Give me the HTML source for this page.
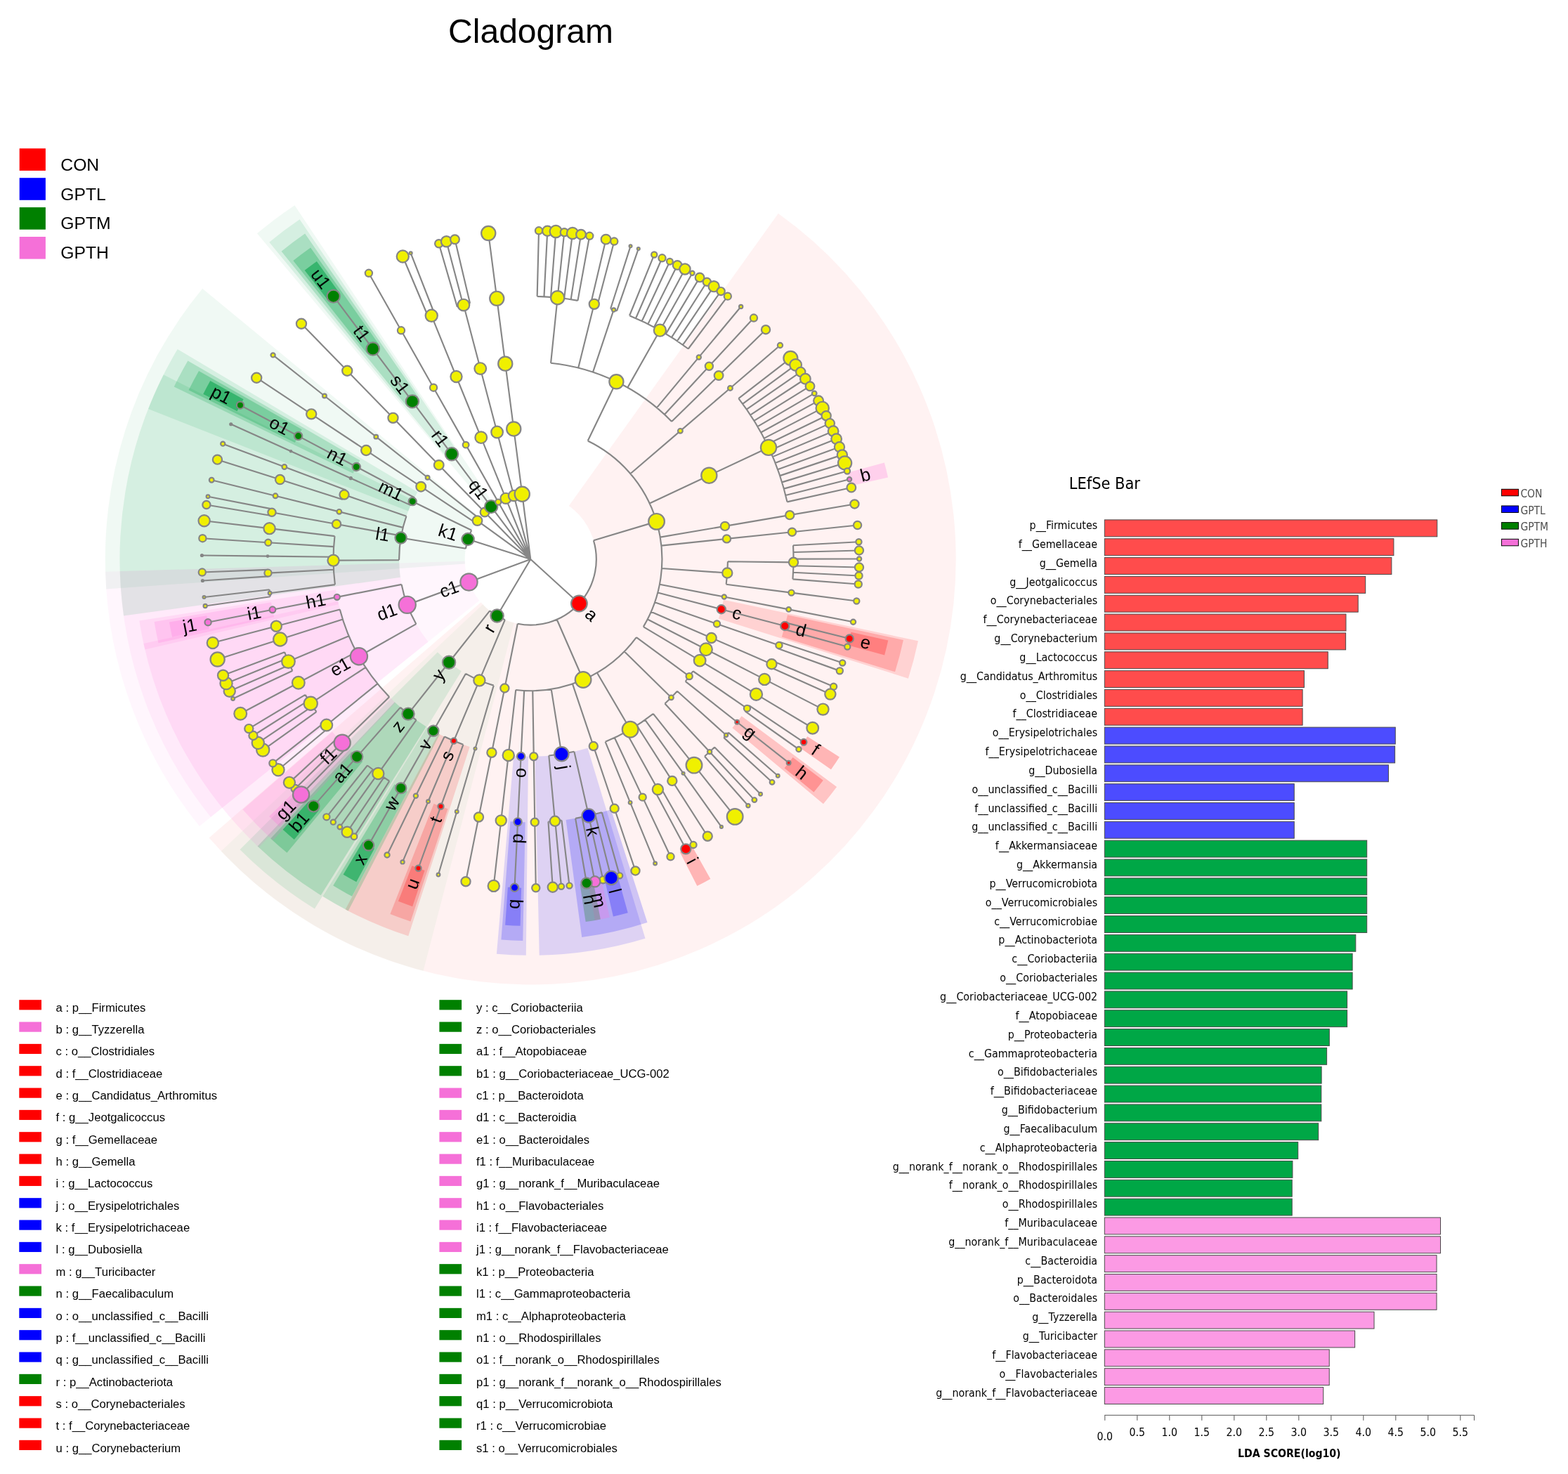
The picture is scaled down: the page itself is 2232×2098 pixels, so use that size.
<!DOCTYPE html>
<html><head><meta charset="utf-8"><title>Cladogram</title><style>html,body{margin:0;padding:0;background:#fff}body{width:2232px;height:2098px;position:relative;overflow:hidden}</style></head><body>
<svg width="2232" height="2098" viewBox="0 0 2232 2098" style="position:absolute;left:0;top:0">
<rect width="2232" height="2098" fill="#fff"/>
<g id="wedges">
<path d="M297.54 1192.41A605.5 605.5 0 1 0 1107.79 303.73L809.74 719.94A93.57 93.57 0 1 1 684.53 857.28Z" fill="#ff0000" fill-opacity="0.05"/>
<path d="M314.7 1211.4A605.5 605.5 0 0 0 602.58 1381.95L731.67 886.57A93.57 93.57 0 0 1 687.18 860.21Z" fill="#00b428" fill-opacity="0.04"/>
<path d="M150.02 813.72A605.5 605.5 0 0 0 283.87 1176.05L682.41 854.75A93.57 93.57 0 0 1 661.73 798.76Z" fill="#ff6cdc" fill-opacity="0.06"/>
<path d="M288.16 410.73A605.5 605.5 0 0 0 151.25 838.49L661.92 802.58A93.57 93.57 0 0 1 683.08 736.48Z" fill="#00a046" fill-opacity="0.06"/>
<path d="M419.47 292.16A605.5 605.5 0 0 0 365.88 332.32L695.09 724.36A93.57 93.57 0 0 1 703.37 718.16Z" fill="#00a046" fill-opacity="0.06"/>
<path d="M341.52 1209.31A584.8 584.8 0 0 0 447.86 1293.51L656.89 955.22A187.14 187.14 0 0 1 622.86 928.28Z" fill="#00a046" fill-opacity="0.11"/>
<path d="M170.71 813.12A584.8 584.8 0 0 0 299.98 1163.06L609.57 913.47A187.14 187.14 0 0 1 568.2 801.49Z" fill="#ff6cdc" fill-opacity="0.08"/>
<path d="M232.76 533.37A584.8 584.8 0 0 0 176.03 876.52L569.9 821.78A187.14 187.14 0 0 1 588.06 711.97Z" fill="#00a046" fill-opacity="0.11"/>
<path d="M252.72 496.95A584.8 584.8 0 0 0 210.99 582.09L581.09 727.56A187.14 187.14 0 0 1 594.44 700.31Z" fill="#00a046" fill-opacity="0.11"/>
<path d="M426.54 312.35A584.8 584.8 0 0 0 383.27 344.78L636.22 651.62A187.14 187.14 0 0 1 650.07 641.24Z" fill="#00a046" fill-opacity="0.11"/>
<path d="M1292.93 965.68A563.8 563.8 0 0 0 1306.96 912.21L1029.94 853.87A280.71 280.71 0 0 1 1022.96 880.49Z" fill="#ff0000" fill-opacity="0.13"/>
<path d="M767.7 1359.68A563.8 563.8 0 0 0 918.54 1335.66L836.56 1064.7A280.71 280.71 0 0 1 761.45 1076.66Z" fill="#0000ff" fill-opacity="0.13"/>
<path d="M706.92 1357.74A563.8 563.8 0 0 0 748.78 1359.78L752.03 1076.71A280.71 280.71 0 0 1 731.19 1075.7Z" fill="#0000ff" fill-opacity="0.13"/>
<path d="M491.66 1294.4A563.8 563.8 0 0 0 581.27 1332.3L668.63 1063.03A280.71 280.71 0 0 1 624.02 1044.16Z" fill="#ff0000" fill-opacity="0.14"/>
<path d="M459.23 1275.85A563.8 563.8 0 0 0 495.7 1296.52L626.03 1045.21A280.71 280.71 0 0 1 607.87 1034.92Z" fill="#00a046" fill-opacity="0.2"/>
<path d="M366.6 1204.44A563.8 563.8 0 0 0 456.74 1274.31L606.63 1034.15A280.71 280.71 0 0 1 561.75 999.37Z" fill="#00a046" fill-opacity="0.2"/>
<path d="M204.39 916.08A563.8 563.8 0 0 0 368.56 1206.31L562.73 1000.3A280.71 280.71 0 0 1 480.99 855.8Z" fill="#ff6cdc" fill-opacity="0.13"/>
<path d="M198.29 883.49A563.8 563.8 0 0 0 206.32 924.62L481.95 860.05A280.71 280.71 0 0 1 477.95 839.57Z" fill="#ff6cdc" fill-opacity="0.13"/>
<path d="M267.39 513.44A563.8 563.8 0 0 0 247.75 550.46L502.57 673.76A280.71 280.71 0 0 1 512.35 655.33Z" fill="#00a046" fill-opacity="0.2"/>
<path d="M434.13 332.61A563.8 563.8 0 0 0 400.59 357.75L578.68 577.81A280.71 280.71 0 0 1 595.37 565.29Z" fill="#00a046" fill-opacity="0.2"/>
<path d="M1274.05 956.34A543 543 0 0 0 1285.93 911.07L1121.04 875.32A374.28 374.28 0 0 1 1112.85 906.53Z" fill="#ff0000" fill-opacity="0.19"/>
<path d="M1171.94 1144.2A543 543 0 0 0 1191.06 1119.94L1055.65 1019.29A374.28 374.28 0 0 1 1042.47 1036.01Z" fill="#ff0000" fill-opacity="0.19"/>
<path d="M828.27 1334.09A543 543 0 0 0 921.5 1312.95L869.84 1152.33A374.28 374.28 0 0 1 805.58 1166.9Z" fill="#0000ff" fill-opacity="0.19"/>
<path d="M713.42 1337.41A543 543 0 0 0 744.28 1338.91L747.69 1170.22A374.28 374.28 0 0 1 726.42 1169.19Z" fill="#0000ff" fill-opacity="0.19"/>
<path d="M555.4 1300.9A543 543 0 0 0 584.43 1311.45L637.51 1151.3A374.28 374.28 0 0 1 617.5 1144.02Z" fill="#ff0000" fill-opacity="0.19"/>
<path d="M474.2 1260.62A543 543 0 0 0 501.07 1275.85L580.05 1126.76A374.28 374.28 0 0 1 561.53 1116.26Z" fill="#00a046" fill-opacity="0.28"/>
<path d="M385.28 1193.46A543 543 0 0 0 408.48 1213.86L516.23 1084.03A374.28 374.28 0 0 1 500.24 1069.97Z" fill="#00a046" fill-opacity="0.28"/>
<path d="M345.46 1152.27A543 543 0 0 0 388.42 1196.37L502.4 1071.97A374.28 374.28 0 0 1 472.79 1041.57Z" fill="#ff6cdc" fill-opacity="0.19"/>
<path d="M219.59 884.94A543 543 0 0 0 225.51 915.26L390.12 878.21A374.28 374.28 0 0 1 386.03 857.31Z" fill="#ff6cdc" fill-opacity="0.19"/>
<path d="M283.03 527.98A543 543 0 0 0 268.55 555.26L419.78 630.07A374.28 374.28 0 0 1 429.76 611.26Z" fill="#00a046" fill-opacity="0.28"/>
<path d="M442.09 352.43A543 543 0 0 0 417.38 370.95L522.36 503.03A374.28 374.28 0 0 1 539.4 490.26Z" fill="#00a046" fill-opacity="0.28"/>
<path d="M1264.08 679.45A522 522 0 0 0 1258.85 658.6L1206.61 672.85A467.85 467.85 0 0 1 1211.3 691.54Z" fill="#ff6cdc" fill-opacity="0.25"/>
<path d="M1259.11 932.48A522 522 0 0 0 1264.3 911.62L1211.49 899.63A467.85 467.85 0 0 1 1206.84 918.33Z" fill="#ff0000" fill-opacity="0.25"/>
<path d="M1182.97 1095.27A522 522 0 0 0 1194.93 1077.41L1149.32 1048.22A467.85 467.85 0 0 1 1138.6 1064.23Z" fill="#ff0000" fill-opacity="0.25"/>
<path d="M1158.44 1127.58A522 522 0 0 0 1171.75 1110.69L1128.55 1078.05A467.85 467.85 0 0 1 1116.62 1093.18Z" fill="#ff0000" fill-opacity="0.25"/>
<path d="M992.37 1261.06A522 522 0 0 0 1011.31 1250.91L984.75 1203.72A467.85 467.85 0 0 1 967.77 1212.82Z" fill="#ff0000" fill-opacity="0.25"/>
<path d="M872.92 1304.59A522 522 0 0 0 893.76 1299.31L879.39 1247.1A467.85 467.85 0 0 1 860.71 1251.83Z" fill="#0000ff" fill-opacity="0.25"/>
<path d="M846.85 1309.92A522 522 0 0 0 867.93 1305.72L856.24 1252.84A467.85 467.85 0 0 1 837.35 1256.61Z" fill="#ff6cdc" fill-opacity="0.25"/>
<path d="M833.67 1312.1A522 522 0 0 0 854.85 1308.43L844.52 1255.28A467.85 467.85 0 0 1 825.54 1258.56Z" fill="#008000" fill-opacity="0.25"/>
<path d="M719.13 1316.77A522 522 0 0 0 740.6 1317.81L742.12 1263.69A467.85 467.85 0 0 1 722.88 1262.75Z" fill="#0000ff" fill-opacity="0.25"/>
<path d="M566.94 1282.87A522 522 0 0 0 587.15 1290.21L604.59 1238.94A467.85 467.85 0 0 1 586.48 1232.36Z" fill="#ff0000" fill-opacity="0.25"/>
<path d="M488.58 1244.76A522 522 0 0 0 507.29 1255.36L533.01 1207.71A467.85 467.85 0 0 1 516.25 1198.21Z" fill="#00a046" fill-opacity="0.55"/>
<path d="M402.6 1180.87A522 522 0 0 0 418.74 1195.07L453.65 1153.67A467.85 467.85 0 0 1 439.18 1140.95Z" fill="#00a046" fill-opacity="0.55"/>
<path d="M383.15 1162.1A522 522 0 0 0 398.54 1177.12L435.54 1137.58A467.85 467.85 0 0 1 421.75 1124.13Z" fill="#ff6cdc" fill-opacity="0.25"/>
<path d="M240.99 885.54A522 522 0 0 0 245.12 906.64L298.04 895.17A467.85 467.85 0 0 1 294.34 876.26Z" fill="#ff6cdc" fill-opacity="0.25"/>
<path d="M299.28 541.92A522 522 0 0 0 289.21 560.91L337.55 585.3A467.85 467.85 0 0 1 346.58 568.28Z" fill="#00a046" fill-opacity="0.55"/>
<path d="M450.87 371.96A522 522 0 0 0 433.66 384.85L467.02 427.51A467.85 467.85 0 0 1 482.44 415.95Z" fill="#00a046" fill-opacity="0.55"/>
</g>
<g id="lines" fill="none" stroke="#868686" stroke-width="2.15" stroke-linecap="butt" stroke-linejoin="miter">
<path d="M669.05 431.8L647.5 340.75M707.26 424.83L695.25 332.03M764.65 421.86L767 328.32M774.46 422.23L779.26 328.79M784.05 422.85L791.25 329.56M793.66 423.72L803.26 330.64M803.05 424.8L815 332M812.66 426.17L827.01 333.7M822.45 427.82L839.25 335.77M841.07 431.71L862.53 340.63M850.49 434.06L874.3 343.57M869.09 439.47L897.55 350.33M878.1 442.47L908.81 354.08M896.04 449.23L931.24 362.53M905.05 453.02L942.49 367.27M913.78 456.97L953.41 372.2M922.39 461.13L964.17 377.4M931.06 465.59L975.01 382.99M939.45 470.2L985.5 388.75M947.9 475.12L996.06 394.9M956.07 480.17L1006.28 401.21M963.97 485.33L1016.14 407.66M972 490.88L1026.18 414.6M979.72 496.51L1035.83 421.64M994.8 508.43L1054.68 436.53M1009.4 521.25L1072.94 452.56M1023.09 534.57L1090.04 469.21M1039.44 552.45L1110.48 491.55M683.74 524.58L659.89 434.09M719.26 517.63L707.26 424.83M784.06 516.79L793.67 423.72M823.16 523.65L845.79 432.85M844.02 529.71L873.61 440.94M893.37 551.63L939.41 470.17M934.91 580.33L994.8 508.43M945.87 589.95L1009.4 521.25M956.13 599.93L1023.09 534.57M968.39 613.34L1039.44 552.45M1009.35 676.7L1094.04 636.92M684.75 622.67L649.49 536M707.58 615.06L683.74 524.58M731.26 610.43L719.26 517.63M836.68 627.52L877.39 543.27M897.35 674.23L968.39 613.34M924.65 716.47L1009.35 676.7M709.19 714.58L663.11 633.14M720 709.35L684.75 622.67M731.42 705.54L707.58 615.06M743.26 703.22L731.26 610.43M1051.35 567.07L1125.37 509.83M1057.13 574.76L1132.6 519.44M1062.82 582.72L1139.71 529.4M1068.15 590.62L1146.37 539.27M1073.46 598.96L1153.01 549.7M1078.39 607.16L1159.18 559.94M1083.13 615.5L1165.1 570.37M1087.62 623.91L1170.71 580.88M1091.96 632.56L1176.14 591.7M1096.07 641.32L1181.28 602.64M1099.94 650.13L1186.1 613.66M1103.55 658.98L1190.62 624.72M1107.02 668.16L1194.96 636.19M1110.15 677.11L1198.87 647.38M1113.12 686.38L1202.59 658.97M1115.82 695.61L1205.96 670.51M1118.29 704.94L1209.05 682.18M1120.53 714.39L1211.85 693.98M1124.23 733.17L1216.47 717.46M1127.52 757.2L1220.59 747.49M1129.02 776.21L1222.45 771.25M1129.41 786.01L1222.94 783.5M1129.54 795.6L1223.11 795.5M1129.43 805.2L1222.97 807.5M1129.07 814.8L1222.52 819.5M1128.46 824.4L1221.76 831.5M1126.5 843.61L1219.31 855.51M1122.67 867.41L1214.52 885.25M1118.46 886.41L1209.26 909M1116.05 895.6L1206.25 920.5M1110.46 914.01L1199.26 943.5M1107.31 923.1L1195.32 954.87M1100.34 940.96L1186.61 977.19M1096.56 949.65L1181.88 988.06M1088.25 966.9L1171.5 1009.62M1031.98 748.89L1124.23 733.17M1034.46 766.9L1127.52 757.2M1035.95 799.24L1129.52 800.31M1033.69 831.71L1126.5 843.61M1030.82 849.56L1122.67 867.41M1026.78 867.26L1117.28 891.01M1020.5 887.93L1108.91 918.56M1012.67 907.99L1098.47 945.32M1005.01 924.18L1088.25 966.9M996.14 940.15L1076.44 988.19M986.44 955.25L1063.49 1008.33M939.74 764.6L1031.98 748.89M941.39 776.61L1034.46 766.9M941.95 809.01L1035.29 815.51M938.96 831.71L1030.82 849.56M936.27 843.52L1026.78 867.26M932.09 857.29L1020.5 887.93M926.87 870.67L1012.67 907.99M921.76 881.46L1005.01 924.18M1076.44 988.19L1156.73 1036.24M1066.28 1004.23L1144.04 1056.28M1060.65 1012.4L1137 1066.5M1049.18 1027.75L1122.66 1085.68M1036.84 1042.59L1107.23 1104.24M1030.3 1049.87L1099.06 1113.33M1017.1 1063.46L1082.57 1130.32M1010.14 1070.1L1073.86 1138.62M1003.01 1076.56L1064.95 1146.7M988 1089.14L1046.18 1162.42M972.6 1100.73L1026.93 1176.91M956.84 1111.38L1007.23 1190.22M940.63 1121.17L986.98 1202.46M932.1 1125.89L976.31 1208.36M914.68 1134.65L954.53 1219.31M897.12 1142.37L932.59 1228.96M874.63 1150.75L904.48 1239.44M975.7 969.81L1049.18 1027.75M964.01 983.69L1033.59 1046.25M946.42 1001.58L1010.14 1070.1M929.81 1015.86L988 1089.14M918.26 1024.55L972.6 1100.73M906.44 1032.54L956.84 1111.38M891.1 1041.67L936.38 1123.56M874.82 1049.99L914.68 1134.65M861.66 1055.79L897.12 1142.37M844.79 1062.07L874.63 1150.75M915.85 892.11L996.14 940.15M905.88 907.09L981.18 962.62M888.7 927.23L955.42 992.83M849.85 957.49L897.15 1038.23M814.95 973.39L844.79 1062.07M591.88 1132.76L551.03 1216.94M609.48 1140.74L573.03 1226.92M627.45 1147.8L595.5 1235.75M650.23 1155.26L623.98 1245.07M681.46 1162.95L663.01 1254.69M713.24 1167.93L702.73 1260.91M737.05 1169.86L732.5 1263.32M761.25 1170.25L762.75 1263.81M780.47 1169.45L786.77 1262.81M790.24 1168.66L798.98 1261.82M799.46 1167.68L810.51 1260.6M819.09 1164.82L835.05 1257.02M828.5 1163.06L846.81 1254.82M837.82 1161.08L858.46 1252.34M847.12 1158.85L870.08 1249.56M856.76 1156.27L882.13 1246.34M632.72 1048.57L591.88 1132.76M645.92 1054.56L609.48 1140.74M659.4 1059.86L627.45 1147.8M676.49 1065.45L650.23 1155.26M699.91 1071.22L681.46 1162.95M723.74 1074.96L713.24 1167.93M741.6 1076.4L737.05 1169.86M759.75 1076.69L761.25 1170.25M781.3 1075.52L789.98 1168.69M817.34 1069.78L838.03 1161.03M662.99 958.83L616.85 1040.24M682.36 968.38L645.92 1054.56M702.75 975.64L676.49 1065.45M718.36 979.49L699.91 1071.22M734.25 981.98L723.74 1074.96M746.15 982.94L741.6 1076.4M758.26 983.14L759.75 1076.69M784.69 980.83L799.41 1073.24M381.74 772.2L288.36 766.24M381.01 791.61L287.44 790.5M381.27 810.81L287.78 814.51M381.78 820.42L288.41 826.52M383.48 839.2L290.53 850M384.78 849.21L292.16 862.51M387.93 867.79L296.09 885.73M393.3 891.24L302.81 915.05M398.77 910.03L309.64 938.53M405.09 928.19L317.55 961.23M408.67 937.31L322.03 972.64M412.44 946.21L326.73 983.76M416.32 954.77L331.58 994.46M424.83 971.81L342.23 1015.76M434.5 988.89L354.31 1037.11M439.41 996.83L360.45 1047.03M444.88 1005.18L367.29 1057.48M450.44 1013.21L374.24 1067.51M461.78 1028.3L388.41 1086.37M467.87 1035.79L396.02 1095.73M480.59 1050.27L411.93 1113.84M487.12 1057.14L420.08 1122.42M493.91 1063.95L428.58 1130.93M508.13 1077.11L446.35 1147.39M522.95 1089.48L464.87 1162.84M530.52 1095.31L474.33 1170.14M538.1 1100.86L483.81 1177.07M546.39 1106.6L494.17 1184.24M554.28 1111.76L504.03 1190.7M570.72 1121.64L524.58 1203.05M476.48 763.13L383.56 752.17M475.12 778.15L381.74 772.2M474.57 792.71L381.01 791.61M474.94 810.72L381.49 815.62M476.89 832.16L384.1 844.21M479.76 849.85L387.93 867.79M483.79 867.44L393.3 891.24M487.89 881.53L398.77 910.03M496.65 905.2L410.45 941.59M507.44 927.87L424.83 971.81M520.49 949.91L442.24 1001.21M537.41 973.06L464.8 1032.07M554.19 991.9L487.17 1057.19M569.91 1006.84L508.13 1077.11M592.56 1024.77L538.33 1101.02M616.85 1040.24L570.72 1121.64M568.12 797.11L474.55 797.66M571.59 831.9L479.76 849.85M592.37 888.16L510.93 934.23M639.09 942.74L581.01 1016.1M650.8 436.61L624.68 346.76M659.45 434.21L635.5 343.76M609.69 451.21L573.29 365.01M618.81 447.5L584.7 360.37M570.97 470.26L524.9 388.82M530.79 496.52L474.67 421.65M494.23 527.78L428.98 460.73M461.95 563.52L388.62 505.4M443.2 589.37L365.19 537.71M424.64 620.6L341.98 576.74M414.05 642.2L328.75 603.75M404.84 664.52L317.23 631.65M398.6 682.52L309.44 654.15M392.02 705.8L301.21 683.24M387.86 724.57L296.01 706.7M386.16 733.99L293.88 718.48M383.56 752.17L290.63 741.21M649.49 536L614.24 449.32M617.04 551.7L570.97 470.26M586.91 571.4L530.79 496.52M559.49 594.84L494.23 527.78M535.28 621.65L461.95 563.52M521.22 641.03L443.2 589.37M507.29 664.45L424.64 620.6M499.35 680.66L414.05 642.2M492.44 697.4L404.84 664.52M487.77 710.9L398.6 682.52M482.83 728.35L392.02 705.8M479.05 745.96L386.98 729.27M571.12 762.65L479.05 745.96M663.11 633.14L617.04 551.7M643.03 646.27L586.91 571.4M624.75 661.9L559.49 594.84M608.61 679.77L535.28 621.65M599.23 692.69L521.22 641.03M589.95 708.31L507.29 664.45M584.65 719.11L499.35 680.66M578.43 734.75L490.02 704.12M573.64 750.91L482.83 728.35M755.26 796.02L824.4 859.06M755.26 796.02L707.57 876.52M755.26 796.02L667.49 828.44M755.26 796.02L666.14 767.5M755.26 796.02L679.52 741.08M755.26 796.02L690 728.96M755.26 796.02L699.14 721.15M755.26 796.02L709.19 714.58M755.26 796.02L720 709.35M755.26 796.02L731.42 705.54M755.26 796.02L743.26 703.22M844.9 769.2L934.55 742.37M792.68 881.78L830.1 967.54M736.81 887.75L718.36 979.49M718.82 882.2L682.38 968.39M697.18 869.38L639.09 942.74M667.49 828.44L579.72 860.87M662.94 780.76L570.63 765.49M677.25 744.36L599.23 692.69M681.93 737.9L608.61 679.77M690 728.96L624.75 661.9M699.14 721.15L643.03 646.27M671.24 754.84L587.21 713.67M681.93 737.9A93.57 93.57 0 0 0 677.25 744.36M671.24 754.84A93.57 93.57 0 0 0 662.94 780.76M697.18 869.38A93.57 93.57 0 0 0 718.82 882.2M736.81 887.75A93.57 93.57 0 0 0 844.9 769.2M589.95 708.31A187.14 187.14 0 0 0 584.65 719.11M578.43 734.75A187.14 187.14 0 0 0 568.12 797.11M571.59 831.9A187.14 187.14 0 0 0 592.37 888.16M662.99 958.83A187.14 187.14 0 0 0 702.75 975.64M734.25 981.98A187.14 187.14 0 0 0 905.88 907.09M915.85 892.11A187.14 187.14 0 0 0 836.68 627.52M492.44 697.4A280.71 280.71 0 0 0 487.77 710.9M476.48 763.13A280.71 280.71 0 0 0 476.89 832.16M483.79 867.44A280.71 280.71 0 0 0 554.19 991.9M569.91 1006.84A280.71 280.71 0 0 0 592.56 1024.77M632.72 1048.57A280.71 280.71 0 0 0 659.4 1059.86M781.3 1075.52A280.71 280.71 0 0 0 817.34 1069.78M861.66 1055.79A280.71 280.71 0 0 0 929.81 1015.86M946.42 1001.58A280.71 280.71 0 0 0 964.01 983.69M975.7 969.81A280.71 280.71 0 0 0 986.44 955.25M1033.69 831.71A280.71 280.71 0 0 0 1035.95 799.24M956.13 599.93A280.71 280.71 0 0 0 784.06 516.79M669.05 431.8A374.28 374.28 0 0 0 650.8 436.61M618.81 447.5A374.28 374.28 0 0 0 609.69 451.21M387.86 724.57A374.28 374.28 0 0 0 386.16 733.99M381.27 810.81A374.28 374.28 0 0 0 381.78 820.42M383.48 839.2A374.28 374.28 0 0 0 384.78 849.21M405.09 928.19A374.28 374.28 0 0 0 416.32 954.77M434.5 988.89A374.28 374.28 0 0 0 450.44 1013.21M461.78 1028.3A374.28 374.28 0 0 0 467.87 1035.79M480.59 1050.27A374.28 374.28 0 0 0 493.91 1063.95M522.95 1089.48A374.28 374.28 0 0 0 554.28 1111.76M780.47 1169.45A374.28 374.28 0 0 0 799.46 1167.68M819.09 1164.82A374.28 374.28 0 0 0 856.76 1156.27M932.1 1125.89A374.28 374.28 0 0 0 940.63 1121.17M1003.01 1076.56A374.28 374.28 0 0 0 1017.1 1063.46M1030.3 1049.87A374.28 374.28 0 0 0 1036.84 1042.59M1060.65 1012.4A374.28 374.28 0 0 0 1066.28 1004.23M1096.56 949.65A374.28 374.28 0 0 0 1100.34 940.96M1107.31 923.1A374.28 374.28 0 0 0 1110.46 914.01M1116.05 895.6A374.28 374.28 0 0 0 1118.46 886.41M1128.46 824.4A374.28 374.28 0 0 0 1129.02 776.21M1120.53 714.39A374.28 374.28 0 0 0 1051.35 567.07M979.72 496.51A374.28 374.28 0 0 0 896.04 449.23M878.1 442.47A374.28 374.28 0 0 0 869.09 439.47M850.49 434.06A374.28 374.28 0 0 0 841.07 431.71M822.45 427.82A374.28 374.28 0 0 0 764.65 421.86"/>
</g>
<g id="nodes" stroke="#858585" stroke-width="2.2">
<circle cx="767" cy="328.32" r="5.1" fill="#f0f000"/>
<circle cx="779.26" cy="328.79" r="7.1" fill="#f0f000"/>
<circle cx="791.25" cy="329.56" r="8.6" fill="#f0f000"/>
<circle cx="803.26" cy="330.64" r="5.6" fill="#f0f000"/>
<circle cx="815" cy="332" r="8.1" fill="#f0f000"/>
<circle cx="827.01" cy="333.7" r="6.85" fill="#f0f000"/>
<circle cx="839.25" cy="335.77" r="5.1" fill="#f0f000"/>
<circle cx="862.53" cy="340.63" r="6.85" fill="#f0f000"/>
<circle cx="874.3" cy="343.57" r="5.1" fill="#f0f000"/>
<circle cx="897.55" cy="350.33" r="1.94" fill="#f0f000"/>
<circle cx="908.81" cy="354.08" r="1.94" fill="#f0f000"/>
<circle cx="931.24" cy="362.53" r="4.1" fill="#f0f000"/>
<circle cx="942.49" cy="367.27" r="5.1" fill="#f0f000"/>
<circle cx="953.41" cy="372.2" r="4.35" fill="#f0f000"/>
<circle cx="964.17" cy="377.4" r="6.35" fill="#f0f000"/>
<circle cx="975.01" cy="382.99" r="7.6" fill="#f0f000"/>
<circle cx="985.5" cy="388.75" r="3.1" fill="#f0f000"/>
<circle cx="996.06" cy="394.9" r="6.35" fill="#f0f000"/>
<circle cx="1006.28" cy="401.21" r="5.6" fill="#f0f000"/>
<circle cx="1016.14" cy="407.66" r="7.6" fill="#f0f000"/>
<circle cx="1026.18" cy="414.6" r="5.6" fill="#f0f000"/>
<circle cx="1035.83" cy="421.64" r="5.1" fill="#f0f000"/>
<circle cx="1054.68" cy="436.53" r="2.6" fill="#f0f000"/>
<circle cx="1072.94" cy="452.56" r="5.1" fill="#f0f000"/>
<circle cx="1090.04" cy="469.21" r="6.1" fill="#f0f000"/>
<circle cx="1110.48" cy="491.55" r="3.6" fill="#f0f000"/>
<circle cx="1125.37" cy="509.83" r="9.96" fill="#f0f000"/>
<circle cx="1132.6" cy="519.44" r="8.35" fill="#f0f000"/>
<circle cx="1139.71" cy="529.4" r="6.64" fill="#f0f000"/>
<circle cx="1146.37" cy="539.27" r="7.34" fill="#f0f000"/>
<circle cx="1153.01" cy="549.7" r="6.34" fill="#f0f000"/>
<circle cx="1159.18" cy="559.94" r="3.32" fill="#f0f000"/>
<circle cx="1165.1" cy="570.37" r="6.94" fill="#f0f000"/>
<circle cx="1170.71" cy="580.88" r="9.15" fill="#f0f000"/>
<circle cx="1176.14" cy="591.7" r="6.64" fill="#f0f000"/>
<circle cx="1181.28" cy="602.64" r="6.64" fill="#f0f000"/>
<circle cx="1186.1" cy="613.66" r="7.34" fill="#f0f000"/>
<circle cx="1190.62" cy="624.72" r="7.34" fill="#f0f000"/>
<circle cx="1194.96" cy="636.19" r="7.1" fill="#f0f000"/>
<circle cx="1198.87" cy="647.38" r="7.1" fill="#f0f000"/>
<circle cx="1202.59" cy="658.97" r="9.6" fill="#f0f000"/>
<circle cx="1205.96" cy="670.51" r="4.1" fill="#f0f000"/>
<circle cx="1211.85" cy="693.98" r="6.35" fill="#f0f000"/>
<circle cx="1216.47" cy="717.46" r="6.1" fill="#f0f000"/>
<circle cx="1220.59" cy="747.49" r="5.6" fill="#f0f000"/>
<circle cx="1222.45" cy="771.25" r="4.1" fill="#f0f000"/>
<circle cx="1222.94" cy="783.5" r="6.1" fill="#f0f000"/>
<circle cx="1223.11" cy="795.5" r="3.1" fill="#f0f000"/>
<circle cx="1222.97" cy="807.5" r="6.1" fill="#f0f000"/>
<circle cx="1222.52" cy="819.5" r="5.1" fill="#f0f000"/>
<circle cx="1221.76" cy="831.5" r="5.1" fill="#f0f000"/>
<circle cx="1219.31" cy="855.51" r="4.1" fill="#f0f000"/>
<circle cx="1214.52" cy="885.25" r="3.6" fill="#f0f000"/>
<circle cx="1206.25" cy="920.5" r="4.1" fill="#f0f000"/>
<circle cx="1199.26" cy="943.5" r="4.1" fill="#f0f000"/>
<circle cx="1195.32" cy="954.87" r="4.6" fill="#f0f000"/>
<circle cx="1186.61" cy="977.19" r="4.6" fill="#f0f000"/>
<circle cx="1181.88" cy="988.06" r="7.6" fill="#f0f000"/>
<circle cx="1171.5" cy="1009.62" r="8.1" fill="#f0f000"/>
<circle cx="1156.73" cy="1036.24" r="8.35" fill="#f0f000"/>
<circle cx="1137" cy="1066.5" r="3.6" fill="#f0f000"/>
<circle cx="1107.23" cy="1104.24" r="2.35" fill="#f0f000"/>
<circle cx="1099.06" cy="1113.33" r="3.35" fill="#f0f000"/>
<circle cx="1082.57" cy="1130.32" r="2.35" fill="#f0f000"/>
<circle cx="1073.86" cy="1138.62" r="3.35" fill="#f0f000"/>
<circle cx="1064.95" cy="1146.7" r="2.6" fill="#f0f000"/>
<circle cx="1046.18" cy="1162.42" r="11.35" fill="#f0f000"/>
<circle cx="1026.93" cy="1176.91" r="1.94" fill="#f0f000"/>
<circle cx="1007.23" cy="1190.22" r="6.6" fill="#f0f000"/>
<circle cx="986.98" cy="1202.46" r="4.6" fill="#f0f000"/>
<circle cx="954.53" cy="1219.31" r="5.1" fill="#f0f000"/>
<circle cx="932.59" cy="1228.96" r="2.35" fill="#f0f000"/>
<circle cx="904.48" cy="1239.44" r="6.1" fill="#f0f000"/>
<circle cx="882.13" cy="1246.34" r="4.1" fill="#f0f000"/>
<circle cx="858.46" cy="1252.34" r="5.1" fill="#f0f000"/>
<circle cx="810.51" cy="1260.6" r="4.1" fill="#f0f000"/>
<circle cx="798.98" cy="1261.82" r="4.1" fill="#f0f000"/>
<circle cx="786.77" cy="1262.81" r="7.1" fill="#f0f000"/>
<circle cx="762.75" cy="1263.81" r="5.6" fill="#f0f000"/>
<circle cx="702.73" cy="1260.91" r="8.1" fill="#f0f000"/>
<circle cx="663.01" cy="1254.69" r="6.6" fill="#f0f000"/>
<circle cx="623.98" cy="1245.07" r="2.35" fill="#f0f000"/>
<circle cx="573.03" cy="1226.92" r="2.6" fill="#f0f000"/>
<circle cx="551.03" cy="1216.94" r="3.6" fill="#f0f000"/>
<circle cx="504.03" cy="1190.7" r="4.35" fill="#f0f000"/>
<circle cx="494.17" cy="1184.24" r="7.6" fill="#f0f000"/>
<circle cx="483.81" cy="1177.07" r="3.35" fill="#f0f000"/>
<circle cx="474.33" cy="1170.14" r="3.6" fill="#f0f000"/>
<circle cx="464.87" cy="1162.84" r="4.6" fill="#f0f000"/>
<circle cx="420.08" cy="1122.42" r="5.6" fill="#f0f000"/>
<circle cx="411.93" cy="1113.84" r="8.1" fill="#f0f000"/>
<circle cx="396.02" cy="1095.73" r="8.6" fill="#f0f000"/>
<circle cx="388.41" cy="1086.37" r="5.1" fill="#f0f000"/>
<circle cx="374.24" cy="1067.51" r="9.1" fill="#f0f000"/>
<circle cx="367.29" cy="1057.48" r="8.6" fill="#f0f000"/>
<circle cx="360.45" cy="1047.03" r="6.1" fill="#f0f000"/>
<circle cx="354.31" cy="1037.11" r="6.1" fill="#f0f000"/>
<circle cx="342.23" cy="1015.76" r="8.85" fill="#f0f000"/>
<circle cx="331.58" cy="994.46" r="2.35" fill="#f0f000"/>
<circle cx="326.73" cy="983.76" r="8.1" fill="#f0f000"/>
<circle cx="322.03" cy="972.64" r="8.6" fill="#f0f000"/>
<circle cx="317.55" cy="961.23" r="7.6" fill="#f0f000"/>
<circle cx="309.64" cy="938.53" r="10.1" fill="#f0f000"/>
<circle cx="302.81" cy="915.05" r="8.1" fill="#f0f000"/>
<circle cx="292.16" cy="862.51" r="2.6" fill="#f0f000"/>
<circle cx="290.53" cy="850" r="1.94" fill="#f0f000"/>
<circle cx="288.41" cy="826.52" r="1.49" fill="#878787"/>
<circle cx="287.78" cy="814.51" r="5.1" fill="#f0f000"/>
<circle cx="287.44" cy="790.5" r="1.49" fill="#878787"/>
<circle cx="288.36" cy="766.24" r="5.1" fill="#f0f000"/>
<circle cx="290.63" cy="741.21" r="8.1" fill="#f0f000"/>
<circle cx="293.88" cy="718.48" r="5.6" fill="#f0f000"/>
<circle cx="296.01" cy="706.7" r="2.35" fill="#f0f000"/>
<circle cx="301.21" cy="683.24" r="3.35" fill="#f0f000"/>
<circle cx="309.44" cy="654.15" r="6.6" fill="#f0f000"/>
<circle cx="317.23" cy="631.65" r="3.1" fill="#f0f000"/>
<circle cx="328.75" cy="603.75" r="1.49" fill="#878787"/>
<circle cx="365.19" cy="537.71" r="7.1" fill="#f0f000"/>
<circle cx="388.62" cy="505.4" r="3.1" fill="#f0f000"/>
<circle cx="428.98" cy="460.73" r="7.1" fill="#f0f000"/>
<circle cx="524.9" cy="388.82" r="5.1" fill="#f0f000"/>
<circle cx="573.29" cy="365.01" r="8.6" fill="#f0f000"/>
<circle cx="584.7" cy="360.37" r="1.94" fill="#f0f000"/>
<circle cx="624.68" cy="346.76" r="5.6" fill="#f0f000"/>
<circle cx="635.5" cy="343.76" r="7.6" fill="#f0f000"/>
<circle cx="647.5" cy="340.75" r="6.35" fill="#f0f000"/>
<circle cx="695.25" cy="332.03" r="10.1" fill="#f0f000"/>
<circle cx="793.67" cy="423.72" r="9.6" fill="#f0f000"/>
<circle cx="845.79" cy="432.85" r="7.1" fill="#f0f000"/>
<circle cx="873.61" cy="440.94" r="2.6" fill="#f0f000"/>
<circle cx="939.41" cy="470.17" r="8.6" fill="#f0f000"/>
<circle cx="994.8" cy="508.43" r="3.1" fill="#f0f000"/>
<circle cx="1009.4" cy="521.25" r="5.6" fill="#f0f000"/>
<circle cx="1023.09" cy="534.57" r="6.35" fill="#f0f000"/>
<circle cx="1039.44" cy="552.45" r="3.35" fill="#f0f000"/>
<circle cx="1094.04" cy="636.92" r="11.1" fill="#f0f000"/>
<circle cx="1124.23" cy="733.17" r="6.1" fill="#f0f000"/>
<circle cx="1127.52" cy="757.2" r="5.6" fill="#f0f000"/>
<circle cx="1129.52" cy="800.31" r="6.6" fill="#f0f000"/>
<circle cx="1126.5" cy="843.61" r="4.1" fill="#f0f000"/>
<circle cx="1122.67" cy="867.41" r="3.35" fill="#f0f000"/>
<circle cx="1108.91" cy="918.56" r="4.6" fill="#f0f000"/>
<circle cx="1098.47" cy="945.32" r="7.1" fill="#f0f000"/>
<circle cx="1088.25" cy="966.9" r="8.1" fill="#f0f000"/>
<circle cx="1076.44" cy="988.19" r="8.6" fill="#f0f000"/>
<circle cx="1063.49" cy="1008.33" r="4.6" fill="#f0f000"/>
<circle cx="1033.59" cy="1046.25" r="2.6" fill="#f0f000"/>
<circle cx="1010.14" cy="1070.1" r="3.1" fill="#f0f000"/>
<circle cx="988" cy="1089.14" r="11.35" fill="#f0f000"/>
<circle cx="972.6" cy="1100.73" r="1.94" fill="#f0f000"/>
<circle cx="956.84" cy="1111.38" r="6.6" fill="#f0f000"/>
<circle cx="936.38" cy="1123.56" r="7.6" fill="#f0f000"/>
<circle cx="914.68" cy="1134.65" r="5.1" fill="#f0f000"/>
<circle cx="897.12" cy="1142.37" r="2.35" fill="#f0f000"/>
<circle cx="874.63" cy="1150.75" r="6.1" fill="#f0f000"/>
<circle cx="789.98" cy="1168.69" r="7.1" fill="#f0f000"/>
<circle cx="761.25" cy="1170.25" r="5.6" fill="#f0f000"/>
<circle cx="713.24" cy="1167.93" r="7.6" fill="#f0f000"/>
<circle cx="681.46" cy="1162.95" r="6.6" fill="#f0f000"/>
<circle cx="650.23" cy="1155.26" r="2.35" fill="#f0f000"/>
<circle cx="609.48" cy="1140.74" r="2.35" fill="#f0f000"/>
<circle cx="591.88" cy="1132.76" r="3.1" fill="#f0f000"/>
<circle cx="538.33" cy="1101.02" r="8.1" fill="#f0f000"/>
<circle cx="464.8" cy="1032.07" r="8.35" fill="#f0f000"/>
<circle cx="442.24" cy="1001.21" r="9.6" fill="#f0f000"/>
<circle cx="424.83" cy="971.81" r="8.85" fill="#f0f000"/>
<circle cx="410.45" cy="941.59" r="9.35" fill="#f0f000"/>
<circle cx="398.77" cy="910.03" r="9.6" fill="#f0f000"/>
<circle cx="393.3" cy="891.24" r="7.6" fill="#f0f000"/>
<circle cx="384.1" cy="844.21" r="2.35" fill="#f0f000"/>
<circle cx="381.49" cy="815.62" r="5.1" fill="#f0f000"/>
<circle cx="381.01" cy="791.61" r="1.2" fill="#878787"/>
<circle cx="381.74" cy="772.2" r="4.6" fill="#f0f000"/>
<circle cx="383.56" cy="752.17" r="8.1" fill="#f0f000"/>
<circle cx="386.98" cy="729.27" r="5.6" fill="#f0f000"/>
<circle cx="392.02" cy="705.8" r="3.35" fill="#f0f000"/>
<circle cx="398.6" cy="682.52" r="6.6" fill="#f0f000"/>
<circle cx="404.84" cy="664.52" r="3.35" fill="#f0f000"/>
<circle cx="414.05" cy="642.2" r="1.2" fill="#878787"/>
<circle cx="443.2" cy="589.37" r="7.1" fill="#f0f000"/>
<circle cx="461.95" cy="563.52" r="2.85" fill="#f0f000"/>
<circle cx="494.23" cy="527.78" r="7.1" fill="#f0f000"/>
<circle cx="570.97" cy="470.26" r="5.1" fill="#f0f000"/>
<circle cx="614.24" cy="449.32" r="8.6" fill="#f0f000"/>
<circle cx="659.89" cy="434.09" r="8.35" fill="#f0f000"/>
<circle cx="707.26" cy="424.83" r="10.1" fill="#f0f000"/>
<circle cx="877.39" cy="543.27" r="10.1" fill="#f0f000"/>
<circle cx="968.39" cy="613.34" r="3.35" fill="#f0f000"/>
<circle cx="1009.35" cy="676.7" r="11.1" fill="#f0f000"/>
<circle cx="1031.98" cy="748.89" r="6.1" fill="#f0f000"/>
<circle cx="1034.46" cy="766.9" r="5.6" fill="#f0f000"/>
<circle cx="1035.29" cy="815.51" r="7.1" fill="#f0f000"/>
<circle cx="1030.82" cy="849.56" r="3.1" fill="#f0f000"/>
<circle cx="1020.5" cy="887.93" r="4.6" fill="#f0f000"/>
<circle cx="1012.67" cy="907.99" r="7.1" fill="#f0f000"/>
<circle cx="1005.01" cy="924.18" r="8.85" fill="#f0f000"/>
<circle cx="996.14" cy="940.15" r="8.35" fill="#f0f000"/>
<circle cx="981.18" cy="962.62" r="4.6" fill="#f0f000"/>
<circle cx="955.42" cy="992.83" r="3.35" fill="#f0f000"/>
<circle cx="897.15" cy="1038.23" r="11.35" fill="#f0f000"/>
<circle cx="844.79" cy="1062.07" r="6.1" fill="#f0f000"/>
<circle cx="759.75" cy="1076.69" r="5.6" fill="#f0f000"/>
<circle cx="723.74" cy="1074.96" r="8.1" fill="#f0f000"/>
<circle cx="699.91" cy="1071.22" r="6.6" fill="#f0f000"/>
<circle cx="676.49" cy="1065.45" r="1.94" fill="#f0f000"/>
<circle cx="474.55" cy="797.66" r="8.1" fill="#f0f000"/>
<circle cx="479.05" cy="745.96" r="6.1" fill="#f0f000"/>
<circle cx="482.83" cy="728.35" r="3.35" fill="#f0f000"/>
<circle cx="490.02" cy="704.12" r="6.6" fill="#f0f000"/>
<circle cx="499.35" cy="680.66" r="1.49" fill="#878787"/>
<circle cx="521.22" cy="641.03" r="7.1" fill="#f0f000"/>
<circle cx="535.28" cy="621.65" r="2.85" fill="#f0f000"/>
<circle cx="559.49" cy="594.84" r="7.1" fill="#f0f000"/>
<circle cx="617.04" cy="551.7" r="5.1" fill="#f0f000"/>
<circle cx="649.49" cy="536" r="8.1" fill="#f0f000"/>
<circle cx="683.74" cy="524.58" r="8.35" fill="#f0f000"/>
<circle cx="719.26" cy="517.63" r="10.1" fill="#f0f000"/>
<circle cx="934.55" cy="742.37" r="11.35" fill="#f0f000"/>
<circle cx="830.1" cy="967.54" r="11.35" fill="#f0f000"/>
<circle cx="718.36" cy="979.49" r="6.1" fill="#f0f000"/>
<circle cx="682.38" cy="968.39" r="8.1" fill="#f0f000"/>
<circle cx="599.23" cy="692.69" r="6.85" fill="#f0f000"/>
<circle cx="608.61" cy="679.77" r="2.85" fill="#f0f000"/>
<circle cx="624.75" cy="661.9" r="6.85" fill="#f0f000"/>
<circle cx="663.11" cy="633.14" r="4.35" fill="#f0f000"/>
<circle cx="684.75" cy="622.67" r="8.35" fill="#f0f000"/>
<circle cx="707.58" cy="615.06" r="8.35" fill="#f0f000"/>
<circle cx="731.26" cy="610.43" r="10.1" fill="#f0f000"/>
<circle cx="1209.05" cy="682.18" r="3.1" fill="#f570d8"/>
<circle cx="1209.26" cy="909" r="5.6" fill="#ff0000"/>
<circle cx="1144.04" cy="1056.28" r="4.35" fill="#ff0000"/>
<circle cx="1122.66" cy="1085.68" r="2.85" fill="#ff0000"/>
<circle cx="976.31" cy="1208.36" r="7.1" fill="#ff0000"/>
<circle cx="870.08" cy="1249.56" r="9.6" fill="#0000ff"/>
<circle cx="846.81" cy="1254.82" r="7.6" fill="#f570d8"/>
<circle cx="835.05" cy="1257.02" r="7.6" fill="#008000"/>
<circle cx="732.5" cy="1263.32" r="5.6" fill="#0000ff"/>
<circle cx="595.5" cy="1235.75" r="4.1" fill="#ff0000"/>
<circle cx="524.58" cy="1203.05" r="7.6" fill="#008000"/>
<circle cx="446.35" cy="1147.39" r="8.1" fill="#008000"/>
<circle cx="428.58" cy="1130.93" r="11.6" fill="#f570d8"/>
<circle cx="296.09" cy="885.73" r="4.6" fill="#f570d8"/>
<circle cx="341.98" cy="576.74" r="5.1" fill="#008000"/>
<circle cx="474.67" cy="421.65" r="9.1" fill="#008000"/>
<circle cx="1117.28" cy="891.01" r="6.1" fill="#ff0000"/>
<circle cx="1049.18" cy="1027.75" r="2.85" fill="#ff0000"/>
<circle cx="838.03" cy="1161.03" r="9.6" fill="#0000ff"/>
<circle cx="737.05" cy="1169.86" r="5.6" fill="#0000ff"/>
<circle cx="627.45" cy="1147.8" r="4.1" fill="#ff0000"/>
<circle cx="570.72" cy="1121.64" r="7.6" fill="#008000"/>
<circle cx="508.13" cy="1077.11" r="8.1" fill="#008000"/>
<circle cx="487.17" cy="1057.19" r="11.6" fill="#f570d8"/>
<circle cx="387.93" cy="867.79" r="4.35" fill="#f570d8"/>
<circle cx="424.64" cy="620.6" r="5.6" fill="#008000"/>
<circle cx="530.79" cy="496.52" r="9.1" fill="#008000"/>
<circle cx="1026.78" cy="867.26" r="6.1" fill="#ff0000"/>
<circle cx="799.41" cy="1073.24" r="10.1" fill="#0000ff"/>
<circle cx="741.6" cy="1076.4" r="5.6" fill="#0000ff"/>
<circle cx="645.92" cy="1054.56" r="4.1" fill="#ff0000"/>
<circle cx="616.85" cy="1040.24" r="7.6" fill="#008000"/>
<circle cx="581.01" cy="1016.1" r="8.6" fill="#008000"/>
<circle cx="510.93" cy="934.23" r="12.1" fill="#f570d8"/>
<circle cx="479.76" cy="849.85" r="4.1" fill="#f570d8"/>
<circle cx="507.29" cy="664.45" r="5.6" fill="#008000"/>
<circle cx="586.91" cy="571.4" r="9.1" fill="#008000"/>
<circle cx="639.09" cy="942.74" r="9.1" fill="#008000"/>
<circle cx="579.72" cy="860.87" r="12.1" fill="#f570d8"/>
<circle cx="570.63" cy="765.49" r="8.1" fill="#008000"/>
<circle cx="587.21" cy="713.67" r="5.6" fill="#008000"/>
<circle cx="643.03" cy="646.27" r="9.1" fill="#008000"/>
<circle cx="824.4" cy="859.06" r="11.35" fill="#ff0000"/>
<circle cx="707.57" cy="876.52" r="9.1" fill="#008000"/>
<circle cx="667.49" cy="828.44" r="12.1" fill="#f570d8"/>
<circle cx="666.14" cy="767.5" r="8.6" fill="#008000"/>
<circle cx="679.52" cy="741.08" r="6.85" fill="#f0f000"/>
<circle cx="690" cy="728.96" r="6.35" fill="#f0f000"/>
<circle cx="699.14" cy="721.15" r="9.1" fill="#008000"/>
<circle cx="709.19" cy="714.58" r="4.1" fill="#f0f000"/>
<circle cx="720" cy="709.35" r="7.6" fill="#f0f000"/>
<circle cx="731.42" cy="705.54" r="7.6" fill="#f0f000"/>
<circle cx="743.26" cy="703.22" r="10.6" fill="#f0f000"/>
</g>
<g id="clabels" font-family="'Liberation Sans', Arial, sans-serif" font-size="25.5" fill="#000">
<text transform="translate(836.6 870.18) rotate(42.36)" y="8.2" text-anchor="start">a</text>
<text transform="translate(1225.05 678.16) rotate(345.92)" y="8.2" text-anchor="start">b</text>
<text transform="translate(1042.74 871.45) rotate(14.7)" y="8.2" text-anchor="start">c</text>
<text transform="translate(1133.24 895.2) rotate(14.7)" y="8.2" text-anchor="start">d</text>
<text transform="translate(1225.27 912.99) rotate(13.97)" y="8.2" text-anchor="start">e</text>
<text transform="translate(1157.75 1065.46) rotate(33.8)" y="8.2" text-anchor="start">f</text>
<text transform="translate(1062.14 1037.96) rotate(38.25)" y="8.2" text-anchor="start">g</text>
<text transform="translate(1135.62 1095.89) rotate(38.25)" y="8.2" text-anchor="start">h</text>
<text transform="translate(984.1 1222.9) rotate(61.8)" y="8.2" text-anchor="start">i</text>
<text transform="translate(802.01 1089.53) rotate(80.95)" y="8.2" text-anchor="start">j</text>
<text transform="translate(841.68 1177.12) rotate(77.22)" y="8.2" text-anchor="start">k</text>
<text transform="translate(874.13 1265.56) rotate(75.79)" y="8.2" text-anchor="start">l</text>
<text transform="translate(850.04 1271.01) rotate(78.71)" y="8.2" text-anchor="start">m</text>
<text transform="translate(837.86 1273.27) rotate(80.18)" y="8.2" text-anchor="start">n</text>
<text transform="translate(740.8 1092.88) rotate(272.79)" y="8.2" text-anchor="end">o</text>
<text transform="translate(736.25 1186.34) rotate(272.79)" y="8.2" text-anchor="end">p</text>
<text transform="translate(731.69 1279.8) rotate(272.79)" y="8.2" text-anchor="end">q</text>
<text transform="translate(699.15 890.72) rotate(300.65)" y="8.2" text-anchor="end">r</text>
<text transform="translate(639.49 1069.76) rotate(292.92)" y="8.2" text-anchor="end">s</text>
<text transform="translate(621.82 1163.31) rotate(289.97)" y="8.2" text-anchor="end">t</text>
<text transform="translate(589.87 1251.26) rotate(289.97)" y="8.2" text-anchor="end">u</text>
<text transform="translate(608.72 1054.59) rotate(299.54)" y="8.2" text-anchor="end">v</text>
<text transform="translate(562.58 1136) rotate(299.54)" y="8.2" text-anchor="end">w</text>
<text transform="translate(516.45 1217.4) rotate(299.54)" y="8.2" text-anchor="end">x</text>
<text transform="translate(628.85 955.67) rotate(308.37)" y="8.2" text-anchor="end">y</text>
<text transform="translate(570.76 1029.03) rotate(308.37)" y="8.2" text-anchor="end">z</text>
<text transform="translate(497.24 1089.5) rotate(311.32)" y="8.2" text-anchor="end">a1</text>
<text transform="translate(435.46 1159.78) rotate(311.32)" y="8.2" text-anchor="end">b1</text>
<text transform="translate(652.01 834.16) rotate(339.72)" y="8.2" text-anchor="end">c1</text>
<text transform="translate(564.24 866.59) rotate(339.72)" y="8.2" text-anchor="end">d1</text>
<text transform="translate(496.57 942.35) rotate(330.5)" y="8.2" text-anchor="end">e1</text>
<text transform="translate(475.35 1068.71) rotate(315.75)" y="8.2" text-anchor="end">f1</text>
<text transform="translate(417.06 1142.74) rotate(314.29)" y="8.2" text-anchor="end">g1</text>
<text transform="translate(463.57 853.01) rotate(348.94)" y="8.2" text-anchor="end">h1</text>
<text transform="translate(371.73 870.95) rotate(348.94)" y="8.2" text-anchor="end">i1</text>
<text transform="translate(279.9 888.9) rotate(348.94)" y="8.2" text-anchor="end">j1</text>
<text transform="translate(650.43 762.47) rotate(17.75)" y="8.2" text-anchor="end">k1</text>
<text transform="translate(554.35 762.8) rotate(9.39)" y="8.2" text-anchor="end">l1</text>
<text transform="translate(572.4 706.41) rotate(26.11)" y="8.2" text-anchor="end">m1</text>
<text transform="translate(492.72 656.72) rotate(27.95)" y="8.2" text-anchor="end">n1</text>
<text transform="translate(410.06 612.86) rotate(27.95)" y="8.2" text-anchor="end">o1</text>
<text transform="translate(327.41 569.01) rotate(27.95)" y="8.2" text-anchor="end">p1</text>
<text transform="translate(689.25 707.94) rotate(53.15)" y="8.2" text-anchor="end">q1</text>
<text transform="translate(633.13 633.07) rotate(53.15)" y="8.2" text-anchor="end">r1</text>
<text transform="translate(577.01 558.19) rotate(53.15)" y="8.2" text-anchor="end">s1</text>
<text transform="translate(520.89 483.32) rotate(53.15)" y="8.2" text-anchor="end">t1</text>
<text transform="translate(464.78 408.44) rotate(53.15)" y="8.2" text-anchor="end">u1</text>
</g>
<text x="755.5" y="61.4" font-family="'Liberation Sans', Arial, Helvetica, sans-serif" font-size="48" text-anchor="middle" fill="#000">Cladogram</text>
<g font-family="'Liberation Sans', Arial, Helvetica, sans-serif" font-size="24.7" fill="#000">
<rect x="27.7" y="211.3" width="37.2" height="31.6" fill="#ff0000"/>
<text x="86.3" y="242.6">CON</text>
<rect x="27.7" y="253.2" width="37.2" height="31.6" fill="#0000ff"/>
<text x="86.3" y="284.5">GPTL</text>
<rect x="27.7" y="295.1" width="37.2" height="31.6" fill="#008000"/>
<text x="86.3" y="326.4">GPTM</text>
<rect x="27.7" y="337" width="37.2" height="31.6" fill="#f570d8"/>
<text x="86.3" y="368.3">GPTH</text>
</g>
<g font-family="'Liberation Sans', Arial, Helvetica, sans-serif" font-size="16.65" fill="#000">
<rect x="27.3" y="1423.2" width="31.7" height="14.2" fill="#ff0000"/>
<text x="79.6" y="1439.5">a : p__Firmicutes</text>
<rect x="27.3" y="1454.53" width="31.7" height="14.2" fill="#f570d8"/>
<text x="79.6" y="1470.86">b : g__Tyzzerella</text>
<rect x="27.3" y="1485.86" width="31.7" height="14.2" fill="#ff0000"/>
<text x="79.6" y="1502.22">c : o__Clostridiales</text>
<rect x="27.3" y="1517.19" width="31.7" height="14.2" fill="#ff0000"/>
<text x="79.6" y="1533.58">d : f__Clostridiaceae</text>
<rect x="27.3" y="1548.52" width="31.7" height="14.2" fill="#ff0000"/>
<text x="79.6" y="1564.94">e : g__Candidatus_Arthromitus</text>
<rect x="27.3" y="1579.85" width="31.7" height="14.2" fill="#ff0000"/>
<text x="79.6" y="1596.3">f : g__Jeotgalicoccus</text>
<rect x="27.3" y="1611.18" width="31.7" height="14.2" fill="#ff0000"/>
<text x="79.6" y="1627.66">g : f__Gemellaceae</text>
<rect x="27.3" y="1642.51" width="31.7" height="14.2" fill="#ff0000"/>
<text x="79.6" y="1659.02">h : g__Gemella</text>
<rect x="27.3" y="1673.84" width="31.7" height="14.2" fill="#ff0000"/>
<text x="79.6" y="1690.38">i : g__Lactococcus</text>
<rect x="27.3" y="1705.17" width="31.7" height="14.2" fill="#0000ff"/>
<text x="79.6" y="1721.74">j : o__Erysipelotrichales</text>
<rect x="27.3" y="1736.5" width="31.7" height="14.2" fill="#0000ff"/>
<text x="79.6" y="1753.1">k : f__Erysipelotrichaceae</text>
<rect x="27.3" y="1767.83" width="31.7" height="14.2" fill="#0000ff"/>
<text x="79.6" y="1784.46">l : g__Dubosiella</text>
<rect x="27.3" y="1799.16" width="31.7" height="14.2" fill="#f570d8"/>
<text x="79.6" y="1815.82">m : g__Turicibacter</text>
<rect x="27.3" y="1830.49" width="31.7" height="14.2" fill="#008000"/>
<text x="79.6" y="1847.18">n : g__Faecalibaculum</text>
<rect x="27.3" y="1861.82" width="31.7" height="14.2" fill="#0000ff"/>
<text x="79.6" y="1878.54">o : o__unclassified_c__Bacilli</text>
<rect x="27.3" y="1893.15" width="31.7" height="14.2" fill="#0000ff"/>
<text x="79.6" y="1909.9">p : f__unclassified_c__Bacilli</text>
<rect x="27.3" y="1924.48" width="31.7" height="14.2" fill="#0000ff"/>
<text x="79.6" y="1941.26">q : g__unclassified_c__Bacilli</text>
<rect x="27.3" y="1955.81" width="31.7" height="14.2" fill="#008000"/>
<text x="79.6" y="1972.62">r : p__Actinobacteriota</text>
<rect x="27.3" y="1987.14" width="31.7" height="14.2" fill="#ff0000"/>
<text x="79.6" y="2003.98">s : o__Corynebacteriales</text>
<rect x="27.3" y="2018.47" width="31.7" height="14.2" fill="#ff0000"/>
<text x="79.6" y="2035.34">t : f__Corynebacteriaceae</text>
<rect x="27.3" y="2049.8" width="31.7" height="14.2" fill="#ff0000"/>
<text x="79.6" y="2066.7">u : g__Corynebacterium</text>
<rect x="625.4" y="1423.2" width="31.7" height="14.2" fill="#008000"/>
<text x="678" y="1439.5">y : c__Coriobacteriia</text>
<rect x="625.4" y="1454.53" width="31.7" height="14.2" fill="#008000"/>
<text x="678" y="1470.86">z : o__Coriobacteriales</text>
<rect x="625.4" y="1485.86" width="31.7" height="14.2" fill="#008000"/>
<text x="678" y="1502.22">a1 : f__Atopobiaceae</text>
<rect x="625.4" y="1517.19" width="31.7" height="14.2" fill="#008000"/>
<text x="678" y="1533.58">b1 : g__Coriobacteriaceae_UCG-002</text>
<rect x="625.4" y="1548.52" width="31.7" height="14.2" fill="#f570d8"/>
<text x="678" y="1564.94">c1 : p__Bacteroidota</text>
<rect x="625.4" y="1579.85" width="31.7" height="14.2" fill="#f570d8"/>
<text x="678" y="1596.3">d1 : c__Bacteroidia</text>
<rect x="625.4" y="1611.18" width="31.7" height="14.2" fill="#f570d8"/>
<text x="678" y="1627.66">e1 : o__Bacteroidales</text>
<rect x="625.4" y="1642.51" width="31.7" height="14.2" fill="#f570d8"/>
<text x="678" y="1659.02">f1 : f__Muribaculaceae</text>
<rect x="625.4" y="1673.84" width="31.7" height="14.2" fill="#f570d8"/>
<text x="678" y="1690.38">g1 : g__norank_f__Muribaculaceae</text>
<rect x="625.4" y="1705.17" width="31.7" height="14.2" fill="#f570d8"/>
<text x="678" y="1721.74">h1 : o__Flavobacteriales</text>
<rect x="625.4" y="1736.5" width="31.7" height="14.2" fill="#f570d8"/>
<text x="678" y="1753.1">i1 : f__Flavobacteriaceae</text>
<rect x="625.4" y="1767.83" width="31.7" height="14.2" fill="#f570d8"/>
<text x="678" y="1784.46">j1 : g__norank_f__Flavobacteriaceae</text>
<rect x="625.4" y="1799.16" width="31.7" height="14.2" fill="#008000"/>
<text x="678" y="1815.82">k1 : p__Proteobacteria</text>
<rect x="625.4" y="1830.49" width="31.7" height="14.2" fill="#008000"/>
<text x="678" y="1847.18">l1 : c__Gammaproteobacteria</text>
<rect x="625.4" y="1861.82" width="31.7" height="14.2" fill="#008000"/>
<text x="678" y="1878.54">m1 : c__Alphaproteobacteria</text>
<rect x="625.4" y="1893.15" width="31.7" height="14.2" fill="#008000"/>
<text x="678" y="1909.9">n1 : o__Rhodospirillales</text>
<rect x="625.4" y="1924.48" width="31.7" height="14.2" fill="#008000"/>
<text x="678" y="1941.26">o1 : f__norank_o__Rhodospirillales</text>
<rect x="625.4" y="1955.81" width="31.7" height="14.2" fill="#008000"/>
<text x="678" y="1972.62">p1 : g__norank_f__norank_o__Rhodospirillales</text>
<rect x="625.4" y="1987.14" width="31.7" height="14.2" fill="#008000"/>
<text x="678" y="2003.98">q1 : p__Verrucomicrobiota</text>
<rect x="625.4" y="2018.47" width="31.7" height="14.2" fill="#008000"/>
<text x="678" y="2035.34">r1 : c__Verrucomicrobiae</text>
<rect x="625.4" y="2049.8" width="31.7" height="14.2" fill="#008000"/>
<text x="678" y="2066.7">s1 : o__Verrucomicrobiales</text>
</g>
<g stroke="#4a4a4a" stroke-width="1">
<rect x="1572.3" y="739.9" width="473.45" height="23.9" fill="#ff4c4c"/>
<rect x="1572.3" y="766.74" width="411.6" height="23.9" fill="#ff4c4c"/>
<rect x="1572.3" y="793.58" width="408.55" height="23.9" fill="#ff4c4c"/>
<rect x="1572.3" y="820.42" width="371.4" height="23.9" fill="#ff4c4c"/>
<rect x="1572.3" y="847.26" width="360.9" height="23.9" fill="#ff4c4c"/>
<rect x="1572.3" y="874.1" width="343.65" height="23.9" fill="#ff4c4c"/>
<rect x="1572.3" y="900.94" width="343.3" height="23.9" fill="#ff4c4c"/>
<rect x="1572.3" y="927.78" width="317.95" height="23.9" fill="#ff4c4c"/>
<rect x="1572.3" y="954.62" width="284.15" height="23.9" fill="#ff4c4c"/>
<rect x="1572.3" y="981.46" width="281.8" height="23.9" fill="#ff4c4c"/>
<rect x="1572.3" y="1008.3" width="281.8" height="23.9" fill="#ff4c4c"/>
<rect x="1572.3" y="1035.14" width="413.95" height="23.9" fill="#4c4cff"/>
<rect x="1572.3" y="1061.98" width="413.3" height="23.9" fill="#4c4cff"/>
<rect x="1572.3" y="1088.82" width="404.15" height="23.9" fill="#4c4cff"/>
<rect x="1572.3" y="1115.66" width="269.95" height="23.9" fill="#4c4cff"/>
<rect x="1572.3" y="1142.5" width="269.95" height="23.9" fill="#4c4cff"/>
<rect x="1572.3" y="1169.34" width="269.95" height="23.9" fill="#4c4cff"/>
<rect x="1572.3" y="1196.18" width="373.4" height="23.9" fill="#00a746"/>
<rect x="1572.3" y="1223.02" width="373.4" height="23.9" fill="#00a746"/>
<rect x="1572.3" y="1249.86" width="373.4" height="23.9" fill="#00a746"/>
<rect x="1572.3" y="1276.7" width="373.4" height="23.9" fill="#00a746"/>
<rect x="1572.3" y="1303.54" width="373.4" height="23.9" fill="#00a746"/>
<rect x="1572.3" y="1330.38" width="357.5" height="23.9" fill="#00a746"/>
<rect x="1572.3" y="1357.22" width="352.8" height="23.9" fill="#00a746"/>
<rect x="1572.3" y="1384.06" width="352.8" height="23.9" fill="#00a746"/>
<rect x="1572.3" y="1410.9" width="345.3" height="23.9" fill="#00a746"/>
<rect x="1572.3" y="1437.74" width="345.3" height="23.9" fill="#00a746"/>
<rect x="1572.3" y="1464.58" width="320" height="23.9" fill="#00a746"/>
<rect x="1572.3" y="1491.42" width="316.3" height="23.9" fill="#00a746"/>
<rect x="1572.3" y="1518.26" width="308.8" height="23.9" fill="#00a746"/>
<rect x="1572.3" y="1545.1" width="308.5" height="23.9" fill="#00a746"/>
<rect x="1572.3" y="1571.94" width="308.5" height="23.9" fill="#00a746"/>
<rect x="1572.3" y="1598.78" width="304.4" height="23.9" fill="#00a746"/>
<rect x="1572.3" y="1625.62" width="275.4" height="23.9" fill="#00a746"/>
<rect x="1572.3" y="1652.46" width="267.6" height="23.9" fill="#00a746"/>
<rect x="1572.3" y="1679.3" width="266.9" height="23.9" fill="#00a746"/>
<rect x="1572.3" y="1706.14" width="266.9" height="23.9" fill="#00a746"/>
<rect x="1572.3" y="1732.98" width="478.2" height="23.9" fill="#fc9ae4"/>
<rect x="1572.3" y="1759.82" width="478.2" height="23.9" fill="#fc9ae4"/>
<rect x="1572.3" y="1786.66" width="472.7" height="23.9" fill="#fc9ae4"/>
<rect x="1572.3" y="1813.5" width="472.7" height="23.9" fill="#fc9ae4"/>
<rect x="1572.3" y="1840.34" width="472.7" height="23.9" fill="#fc9ae4"/>
<rect x="1572.3" y="1867.18" width="383.7" height="23.9" fill="#fc9ae4"/>
<rect x="1572.3" y="1894.02" width="356.3" height="23.9" fill="#fc9ae4"/>
<rect x="1572.3" y="1920.86" width="319.9" height="23.9" fill="#fc9ae4"/>
<rect x="1572.3" y="1947.7" width="319.9" height="23.9" fill="#fc9ae4"/>
<rect x="1572.3" y="1974.54" width="311.4" height="23.9" fill="#fc9ae4"/>
</g>
<g font-family="'DejaVu Sans', 'Liberation Sans', sans-serif" font-size="14.25" fill="#000" text-anchor="end">
<text transform="translate(1562.1 753) scale(1 1.08)">p__Firmicutes</text>
<text transform="translate(1562.1 779.84) scale(1 1.08)">f__Gemellaceae</text>
<text transform="translate(1562.1 806.68) scale(1 1.08)">g__Gemella</text>
<text transform="translate(1562.1 833.52) scale(1 1.08)">g__Jeotgalicoccus</text>
<text transform="translate(1562.1 860.36) scale(1 1.08)">o__Corynebacteriales</text>
<text transform="translate(1562.1 887.2) scale(1 1.08)">f__Corynebacteriaceae</text>
<text transform="translate(1562.1 914.04) scale(1 1.08)">g__Corynebacterium</text>
<text transform="translate(1562.1 940.88) scale(1 1.08)">g__Lactococcus</text>
<text transform="translate(1562.1 967.72) scale(1 1.08)">g__Candidatus_Arthromitus</text>
<text transform="translate(1562.1 994.56) scale(1 1.08)">o__Clostridiales</text>
<text transform="translate(1562.1 1021.4) scale(1 1.08)">f__Clostridiaceae</text>
<text transform="translate(1562.1 1048.24) scale(1 1.08)">o__Erysipelotrichales</text>
<text transform="translate(1562.1 1075.08) scale(1 1.08)">f__Erysipelotrichaceae</text>
<text transform="translate(1562.1 1101.92) scale(1 1.08)">g__Dubosiella</text>
<text transform="translate(1562.1 1128.76) scale(1 1.08)">o__unclassified_c__Bacilli</text>
<text transform="translate(1562.1 1155.6) scale(1 1.08)">f__unclassified_c__Bacilli</text>
<text transform="translate(1562.1 1182.44) scale(1 1.08)">g__unclassified_c__Bacilli</text>
<text transform="translate(1562.1 1209.28) scale(1 1.08)">f__Akkermansiaceae</text>
<text transform="translate(1562.1 1236.12) scale(1 1.08)">g__Akkermansia</text>
<text transform="translate(1562.1 1262.96) scale(1 1.08)">p__Verrucomicrobiota</text>
<text transform="translate(1562.1 1289.8) scale(1 1.08)">o__Verrucomicrobiales</text>
<text transform="translate(1562.1 1316.64) scale(1 1.08)">c__Verrucomicrobiae</text>
<text transform="translate(1562.1 1343.48) scale(1 1.08)">p__Actinobacteriota</text>
<text transform="translate(1562.1 1370.32) scale(1 1.08)">c__Coriobacteriia</text>
<text transform="translate(1562.1 1397.16) scale(1 1.08)">o__Coriobacteriales</text>
<text transform="translate(1562.1 1424) scale(1 1.08)">g__Coriobacteriaceae_UCG-002</text>
<text transform="translate(1562.1 1450.84) scale(1 1.08)">f__Atopobiaceae</text>
<text transform="translate(1562.1 1477.68) scale(1 1.08)">p__Proteobacteria</text>
<text transform="translate(1562.1 1504.52) scale(1 1.08)">c__Gammaproteobacteria</text>
<text transform="translate(1562.1 1531.36) scale(1 1.08)">o__Bifidobacteriales</text>
<text transform="translate(1562.1 1558.2) scale(1 1.08)">f__Bifidobacteriaceae</text>
<text transform="translate(1562.1 1585.04) scale(1 1.08)">g__Bifidobacterium</text>
<text transform="translate(1562.1 1611.88) scale(1 1.08)">g__Faecalibaculum</text>
<text transform="translate(1562.1 1638.72) scale(1 1.08)">c__Alphaproteobacteria</text>
<text transform="translate(1562.1 1665.56) scale(1 1.08)">g__norank_f__norank_o__Rhodospirillales</text>
<text transform="translate(1562.1 1692.4) scale(1 1.08)">f__norank_o__Rhodospirillales</text>
<text transform="translate(1562.1 1719.24) scale(1 1.08)">o__Rhodospirillales</text>
<text transform="translate(1562.1 1746.08) scale(1 1.08)">f__Muribaculaceae</text>
<text transform="translate(1562.1 1772.92) scale(1 1.08)">g__norank_f__Muribaculaceae</text>
<text transform="translate(1562.1 1799.76) scale(1 1.08)">c__Bacteroidia</text>
<text transform="translate(1562.1 1826.6) scale(1 1.08)">p__Bacteroidota</text>
<text transform="translate(1562.1 1853.44) scale(1 1.08)">o__Bacteroidales</text>
<text transform="translate(1562.1 1880.28) scale(1 1.08)">g__Tyzzerella</text>
<text transform="translate(1562.1 1907.12) scale(1 1.08)">g__Turicibacter</text>
<text transform="translate(1562.1 1933.96) scale(1 1.08)">f__Flavobacteriaceae</text>
<text transform="translate(1562.1 1960.8) scale(1 1.08)">o__Flavobacteriales</text>
<text transform="translate(1562.1 1987.64) scale(1 1.08)">g__norank_f__Flavobacteriaceae</text>
</g>
<g font-family="'DejaVu Sans', 'Liberation Sans', sans-serif" font-size="21" fill="#000"><text transform="translate(1521.8 696.3) scale(1 1.08)">LEfSe Bar</text></g>
<g stroke="#555" stroke-width="1" fill="none"><path d="M1572.3 2014.3H2098.5"/>
<path d="M1572.8 2014.3v7.5M1618.8 2014.3v7.5M1664.8 2014.3v7.5M1710.8 2014.3v7.5M1756.8 2014.3v7.5M1802.8 2014.3v7.5M1848.8 2014.3v7.5M1894.8 2014.3v7.5M1940.8 2014.3v7.5M1986.8 2014.3v7.5M2032.8 2014.3v7.5M2078.8 2014.3v7.5M2098.5 2014.3v7.5"/></g>
<g font-family="'DejaVu Sans', 'Liberation Sans', sans-serif" font-size="14.15" fill="#000" text-anchor="middle">
<text transform="translate(1572.8 2049.5) scale(1 1.08)">0.0</text>
<text transform="translate(1618.8 2043.5) scale(1 1.08)">0.5</text>
<text transform="translate(1664.8 2043.5) scale(1 1.08)">1.0</text>
<text transform="translate(1710.8 2043.5) scale(1 1.08)">1.5</text>
<text transform="translate(1756.8 2043.5) scale(1 1.08)">2.0</text>
<text transform="translate(1802.8 2043.5) scale(1 1.08)">2.5</text>
<text transform="translate(1848.8 2043.5) scale(1 1.08)">3.0</text>
<text transform="translate(1894.8 2043.5) scale(1 1.08)">3.5</text>
<text transform="translate(1940.8 2043.5) scale(1 1.08)">4.0</text>
<text transform="translate(1986.8 2043.5) scale(1 1.08)">4.5</text>
<text transform="translate(2032.8 2043.5) scale(1 1.08)">5.0</text>
<text transform="translate(2078.8 2043.5) scale(1 1.08)">5.5</text>
</g>
<g font-family="'DejaVu Sans', 'Liberation Sans', sans-serif" font-size="14.1" font-weight="bold" text-anchor="middle" fill="#000"><text transform="translate(1835.3 2073.5) scale(1 1.08)">LDA SCORE(log10)</text></g>
<g font-family="'DejaVu Sans', 'Liberation Sans', sans-serif" font-size="13.9" fill="#4d4d4d">
<rect x="2137.4" y="696.3" width="24" height="9.5" fill="#ff0000" stroke="#000" stroke-width="1"/>
<text transform="translate(2164.4 707.9) scale(1 1.08)">CON</text>
<rect x="2137.4" y="719.97" width="24" height="9.5" fill="#0000ff" stroke="#000" stroke-width="1"/>
<text transform="translate(2164.4 731.57) scale(1 1.08)">GPTL</text>
<rect x="2137.4" y="743.64" width="24" height="9.5" fill="#008000" stroke="#000" stroke-width="1"/>
<text transform="translate(2164.4 755.24) scale(1 1.08)">GPTM</text>
<rect x="2137.4" y="767.31" width="24" height="9.5" fill="#f570d8" stroke="#000" stroke-width="1"/>
<text transform="translate(2164.4 778.91) scale(1 1.08)">GPTH</text>
</g>
</svg>
</body></html>
